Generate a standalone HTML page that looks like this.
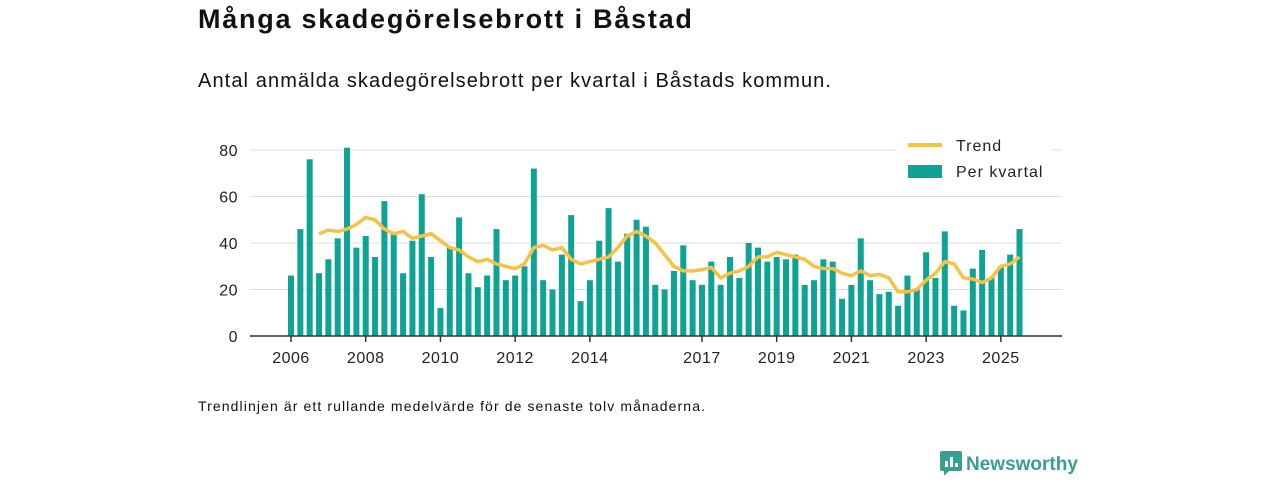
<!DOCTYPE html>
<html><head><meta charset="utf-8"><style>
body{margin:0;width:1280px;height:480px;background:#fff;font-family:"Liberation Sans",sans-serif;color:#111;overflow:hidden;position:relative}
.t{position:absolute;left:198px;top:4px;font-size:27px;font-weight:bold;letter-spacing:1.75px}
.s{position:absolute;left:198px;top:70px;font-size:20px;letter-spacing:1.1px}
.f{position:absolute;left:198px;top:398px;font-size:14px;letter-spacing:1.1px}
.logo{position:absolute;left:940px;top:451px;font-size:19px;font-weight:bold;color:#3a9e92}
</style></head><body>
<div class="t">Många skadegörelsebrott i Båstad</div>
<div class="s">Antal anmälda skadegörelsebrott per kvartal i Båstads kommun.</div>
<svg id="c" width="1280" height="480" style="position:absolute;left:0;top:0"></svg>
<div class="f">Trendlinjen är ett rullande medelvärde för de senaste tolv månaderna.</div>
<div class="logo"><svg width="22" height="24" style="vertical-align:-5px;margin-right:4px"><rect x="0" y="0" width="22" height="20" rx="2" fill="#3a9e92"/><path d="M4 20 L4 25 L9 20Z" fill="#3a9e92"/><rect x="5" y="10" width="3" height="6" fill="#fff"/><rect x="10" y="6" width="3" height="10" fill="#fff"/><rect x="15" y="12" width="3" height="4" fill="#fff"/></svg>Newsworthy</div>
<script>
const values=[26,46,76,27,33,42,81,38,43,34,58,44,27,41,61,34,12,38,51,27,21,26,46,24,26,30,72,24,20,35,52,15,24,41,55,32,44,50,47,22,20,28,39,24,22,32,22,34,25,40,38,32,34,33,35,22,24,33,32,16,22,42,24,18,19,13,26,20,36,25,45,13,11,29,37,25,30,35,46];
const trend=[null,null,null,44,45.5,45,46,48,51,50,46,44,45,42,43,44,41,38,37,34,32,33,31,30,29,31,38,39,37,38,33,31,32,33,34,38,43,45,43,40,35,30,28,28,28.5,29.5,25,27,28,30,34,34,36,35,34,33,30,29,29,27,26,28,26,26.5,25,19,19,20,24,27,32,31,25,24.5,23,25,30,31,34];
const yTicks=[0,20,40,60,80];
const xTickYears=[2006,2008,2010,2012,2014,2017,2019,2021,2023,2025];
const NS="http://www.w3.org/2000/svg",svg=document.getElementById('c');
const x0=291,qw=9.34,y0=336,ys=186/80;
const X=i=>x0+i*qw, Y=v=>y0-v*ys, XY=yr=>x0+(yr-2006)*4*qw;
function mk(t,a,p){const e=document.createElementNS(NS,t);for(const k in a)e.setAttribute(k,a[k]);(p||svg).appendChild(e);return e;}
yTicks.forEach(v=>{
 if(v>0){const g=mk('line',{x1:250,x2:1062,y1:Y(v),y2:Y(v),stroke:'#ddd','stroke-width':1});
 
 }
 const t=mk('text',{x:238,y:Y(v)+6,'text-anchor':'end','font-size':16,fill:'#222','font-family':'Liberation Sans','letter-spacing':0.5});t.textContent=v;
 
 
});
values.forEach((v,i)=>{const r=mk('rect',{x:X(i)-3,y:Y(v),width:6,height:v*ys,fill:'#0fa396'});
 
 });
const ax=mk('line',{x1:250,x2:1062,y1:y0,y2:y0,stroke:'#333','stroke-width':1.5});


xTickYears.forEach(yr=>{const x=XY(yr);mk('line',{x1:x,x2:x,y1:y0,y2:y0+6,stroke:'#333','stroke-width':1.5});
 const t=mk('text',{x:x,y:y0+27,'text-anchor':'middle','font-size':16,fill:'#222','font-family':'Liberation Sans','letter-spacing':0.5});t.textContent=yr;
 
 });
let d='';trend.forEach((v,i)=>{if(v==null)return;d+=(d?'L':'M')+X(i).toFixed(1)+' '+Y(v).toFixed(1);});
const p=mk('path',{d:d,fill:'none',stroke:'#f7c244','stroke-width':3.5,'stroke-linejoin':'round'});


const lg=mk('g',{});


mk('rect',{x:896,y:130,width:156,height:56,fill:'#fff'},lg);
mk('line',{x1:908,x2:942,y1:145,y2:145,stroke:'#f7c244','stroke-width':4},lg);
mk('rect',{x:908,y:165,width:34,height:13,fill:'#0fa396'},lg);
const t1=mk('text',{x:956,y:151,'font-size':16,fill:'#222','font-family':'Liberation Sans','letter-spacing':1},lg);t1.textContent='Trend';
const t2=mk('text',{x:956,y:177,'font-size':16,fill:'#222','font-family':'Liberation Sans','letter-spacing':1},lg);t2.textContent='Per kvartal';
</script>
</body></html>
